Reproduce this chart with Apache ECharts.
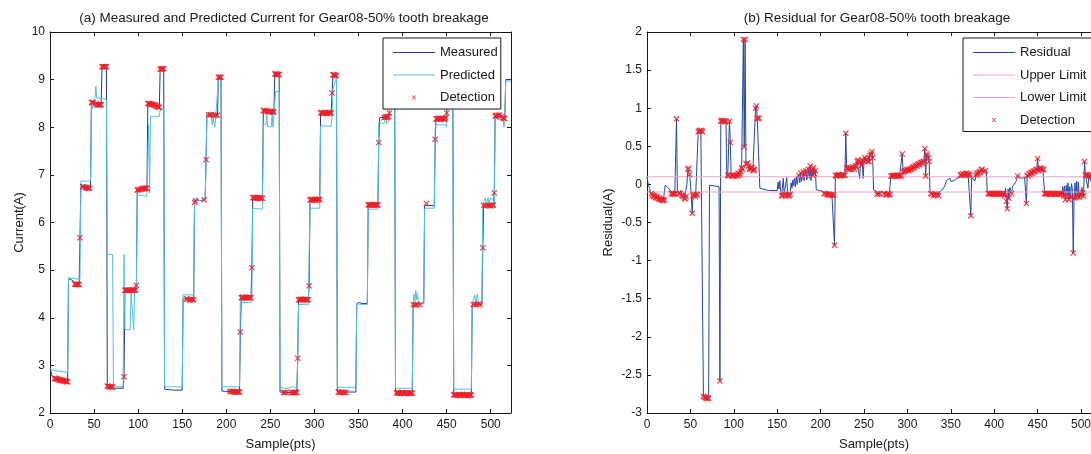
<!DOCTYPE html>
<html>
<head>
<meta charset="utf-8">
<script src="https://cdn.jsdelivr.net/npm/echarts@6/dist/echarts.min.js"></script>
<style>
  html, body { margin: 0; padding: 0; background: #ffffff; }
  #chart { width: 1091px; height: 454px; }
</style>
</head>
<body>
<div id="chart"></div>
<script>
// ---- data ---------------------------------------------------------------
const sampleCount = 523;           // last sample index on the x axis
const xTickStep = 50;
const upperLimit = 0.1;
const lowerLimit = -0.1;

// measured motor current [sample, A]
const measured = [
  [0,2.93],[1,2.88],[2,2.8],[3,2.75],[5,2.73],[8,2.71],[12,2.69],[16,2.67],[20,2.65],
  [21,4.82],[24,4.8],[27,4.76],[28,4.71],[33,4.7],[34,5.68],
  [35,6.76],[38,6.75],[42,6.73],[46,6.72],
  [47,8.52],[51,8.52],[52,8.5],[53,8.47],[58,8.47],
  [59,9.27],[64,9.27],
  [65,2.56],[70,2.55],[73,2.52],[83,2.52],[84,2.76],
  [85,4.58],[97,4.58],[98,4.68],
  [99,6.68],[104,6.7],[110,6.72],
  [111,8.5],[118,8.48],[121,8.44],[124,8.42],
  [125,9.22],[129,9.23],
  [130,2.5],[140,2.48],[150,2.48],
  [151,4.4],[163,4.38],[164,6.42],[166,6.48],[170,6.46],[176,6.48],[177,7.32],
  [178,8.27],[185,8.26],[190,8.25],
  [191,9.05],[194,9.05],
  [195,2.46],[205,2.45],[215,2.44],[216,3.7],
  [217,4.42],[228,4.42],[229,5.05],
  [230,6.52],[241,6.51],
  [242,8.35],[248,8.33],[254,8.32],
  [255,9.12],[260,9.1],
  [261,2.44],[270,2.43],[280,2.43],[281,3.15],
  [282,4.38],[293,4.38],[294,4.67],
  [295,6.48],[306,6.48],
  [307,8.3],[319,8.3],[320,8.72],
  [321,9.1],[325,9.08],
  [326,2.44],[347,2.44],
  [348,4.3],[351,4.32],[354,4.3],[360,4.3],
  [361,6.37],[372,6.37],[373,7.68],
  [374,8.2],[381,8.21],[384,8.22],[385,8.3],
  [386,9.05],[391,9.05],
  [392,2.43],[411,2.42],
  [412,4.28],[424,4.3],
  [425,6.36],[427,6.4],[429,6.36],[436,6.35],[437,7.75],
  [438,8.18],[449,8.2],[450,8.3],
  [451,9.05],[457,9.05],
  [458,2.38],[478,2.38],
  [479,4.27],[490,4.28],[491,5.47],
  [492,6.36],[503,6.37],[504,6.62],
  [505,8.23],[510,8.25],[516,8.2],
  [517,9.0],[523,9.0]
];

// model-predicted current [sample, A]
const predicted = [
  [0,2.93],[3,2.9],[10,2.88],[20,2.85],
  [21,4.84],[27,4.83],[34,4.8],
  [35,6.87],[46,6.87],
  [47,8.55],[48,8.38],[49,8.55],[51,8.6],[52,8.86],[53,8.62],[60,8.6],[64,8.58],
  [65,5.33],[71,5.33],
  [72,2.55],[83,2.55],[84,5.33],
  [85,3.75],[91,3.75],[92,4.55],[94,4.55],[95,3.75],[96,4.55],[98,4.6],
  [99,6.58],[110,6.55],[111,6.58],[112,8.05],[113,6.62],
  [114,8.23],[124,8.23],[125,8.36],[129,8.38],
  [130,2.55],[150,2.55],
  [151,4.48],[163,4.48],
  [164,6.5],[167,6.52],[170,6.45],[176,6.47],[177,7.2],
  [178,8.27],[183,8.25],[184,8.05],[185,8.2],[187,8.0],[188,8.22],[190,8.2],
  [191,9.0],[194,9.0],
  [195,2.55],[215,2.55],[216,4.5],
  [217,4.32],[228,4.32],[229,4.38],
  [230,6.3],[241,6.28],
  [242,8.05],[245,8.05],[246,8.3],[247,8.02],[251,8.0],[252,8.28],[253,8.0],[255,8.02],
  [256,8.75],[260,8.75],
  [261,2.55],[265,2.52],[267,2.56],[270,2.52],[275,2.55],[280,2.53],[281,3.05],
  [282,4.28],[293,4.27],[294,4.27],
  [295,6.3],[306,6.3],
  [307,8.03],[319,8.02],[320,8.25],
  [321,8.8],[325,9.05],
  [326,2.54],[347,2.54],
  [348,4.3],[350,4.32],[352,4.28],[360,4.28],
  [361,6.28],[372,6.28],[373,8.1],
  [374,8.12],[379,8.08],[381,8.2],[382,8.08],[385,8.15],
  [386,9.0],[391,9.0],
  [392,2.52],[411,2.52],
  [412,4.3],[413,4.5],[414,4.35],[415,4.57],[416,4.38],[417,4.5],[418,4.3],[424,4.3],
  [425,6.3],[436,6.3],[437,8.0],
  [438,8.05],[449,8.05],[450,8.0],
  [451,8.85],[457,8.85],
  [458,2.5],[478,2.5],
  [479,4.28],[481,4.3],[482,4.48],[483,4.3],[485,4.5],[486,4.32],[490,4.3],[491,6.4],
  [492,6.4],[494,6.52],[495,6.4],[497,6.52],[498,6.4],[500,6.52],[503,6.45],[504,6.32],
  [505,8.2],[510,8.15],[514,8.2],[515,8.0],[516,8.15],
  [517,8.97],[523,8.97]
];

// residual = measured - predicted [sample, A]
const residual = [
  [0,0.1],[1,0.03],[2,-0.02],[3,-0.05],[4,-0.09],[5,-0.12],[6,-0.14],[7,-0.15],[8,-0.16],[9,-0.15],
  [10,-0.17],[11,-0.18],[12,-0.16],[13,-0.19],[14,-0.18],[15,-0.2],[16,-0.19],[17,-0.2],[18,-0.21],[19,-0.2],[20,-0.21],
  [21,-0.01],[23,-0.03],[25,-0.05],[27,-0.08],[28,-0.12],[30,-0.13],[32,-0.13],[33,-0.12],[34,0.86],[35,-0.08],
  [36,-0.07],[37,-0.12],[38,-0.12],[39,-0.08],[40,-0.14],[42,-0.16],[43,-0.18],[44,-0.19],[45,-0.16],[46,0.0],
  [47,0.2],[48,0.21],[49,0.13],[50,0.02],[51,-0.15],[52,-0.38],[53,-0.15],[54,-0.13],[56,-0.16],[58,-0.14],
  [59,0.69],[61,0.7],[62,0.71],[64,0.69],[65,-2.78],[68,-2.8],[71,-2.81],[72,-0.01],[74,0.0],[78,-0.02],[83,-0.03],
  [84,-2.58],[85,0.83],[88,0.84],[91,0.83],[92,0.08],[93,0.12],[94,0.12],[95,0.83],[96,0.55],[97,0.12],[98,0.11],
  [99,0.11],[100,0.12],[101,0.11],[102,0.09],[103,0.13],[104,0.11],[105,0.15],[106,0.12],[107,0.14],[108,0.17],
  [109,0.22],[110,0.2],[111,1.9],[112,0.49],[113,1.9],[114,0.27],[115,0.26],[116,0.28],[117,0.24],[118,0.2],
  [119,0.22],[120,0.2],[121,0.22],[122,0.18],[123,0.2],[124,0.19],[125,1.0],[126,1.03],[127,0.87],[128,0.86],[129,0.87],
  [130,-0.05],[132,-0.07],[140,-0.08],[150,-0.08],
  [151,0.03],[152,-0.06],[153,0.05],[154,-0.09],[155,-0.15],[156,-0.15],[157,0.08],[158,-0.13],[159,-0.14],[160,-0.15],
  [161,0.09],[162,-0.14],[163,-0.15],[164,-0.15],[165,-0.13],[166,0.02],[167,-0.05],[168,0.06],[169,-0.02],[170,0.08],
  [171,-0.03],[172,0.1],[173,0.0],[174,0.09],[175,0.12],[176,0.02],[177,0.15],[178,0.04],[179,0.09],[180,0.17],
  [181,0.05],[182,0.13],[183,0.18],[184,0.06],[185,0.1],[186,0.2],[187,0.08],[188,0.24],[189,0.05],[190,0.19],
  [191,0.12],[192,0.22],[193,0.14],[194,0.18],[195,-0.07],[198,-0.08],[202,-0.09],[203,-0.1],[204,-0.12],[205,-0.12],
  [206,-0.1],[207,-0.13],[208,-0.13],[209,-0.14],[210,-0.13],[211,-0.14],[212,-0.14],[213,-0.13],[214,-0.15],[215,-0.14],
  [216,-0.8],[217,0.12],[218,0.11],[219,0.12],[221,0.13],[223,0.11],[225,0.13],[226,0.12],[228,0.12],[229,0.67],
  [230,0.22],[231,0.21],[232,0.2],[233,0.2],[234,0.22],[235,0.21],[236,0.2],[237,0.23],[238,0.22],[239,0.2],
  [240,0.24],[241,0.23],[242,0.3],[243,0.32],[244,0.3],[245,0.08],[246,0.3],[247,0.25],[248,0.32],[249,0.08],
  [250,0.3],[251,0.35],[252,0.32],[253,0.33],[254,0.3],[255,0.35],[256,0.3],[257,0.38],[258,0.4],[259,0.43],[260,0.35],
  [261,-0.07],[263,-0.08],[264,-0.09],[265,-0.13],[266,-0.12],[267,-0.09],[268,-0.13],[270,-0.09],[272,-0.09],
  [273,-0.12],[274,-0.1],[275,-0.13],[276,-0.14],[277,-0.13],[278,-0.12],[279,-0.14],[280,-0.13],
  [281,0.11],[283,0.11],[284,0.12],[286,0.12],[288,0.11],[289,0.12],[291,0.12],[293,0.11],[294,0.4],
  [295,0.16],[296,0.17],[297,0.18],[299,0.19],[301,0.2],[302,0.18],[304,0.21],[305,0.2],[306,0.22],
  [307,0.23],[308,0.22],[309,0.24],[310,0.25],[311,0.24],[312,0.26],[313,0.27],[314,0.26],[315,0.28],[316,0.29],
  [317,0.28],[318,0.3],[319,0.3],[320,0.47],[321,0.11],[322,0.4],[323,0.38],[324,0.35],[325,0.3],
  [326,-0.07],[327,-0.12],[328,-0.13],[329,-0.09],[330,-0.15],[331,-0.13],[332,-0.1],[333,-0.14],[334,-0.13],
  [335,-0.09],[336,-0.15],[337,-0.1],[339,-0.09],[341,-0.06],[343,-0.02],[345,0.05],[346,0.07],[347,0.03],
  [349,0.08],[350,0.04],[352,0.06],[354,0.05],[356,0.08],[358,0.1],[360,0.09],
  [361,0.12],[362,0.13],[363,0.12],[364,0.14],[365,0.13],[366,0.12],[367,0.14],[368,0.15],[369,0.13],[370,0.12],
  [371,0.14],[372,0.12],[373,-0.41],[374,0.08],[376,0.07],[378,0.05],[379,0.12],[380,0.15],[381,0.13],[382,0.15],
  [383,0.17],[384,0.16],[385,0.19],[386,0.2],[387,0.16],[388,0.17],[389,0.15],[390,0.18],[391,0.15],
  [392,-0.1],[393,-0.12],[398,-0.13],[404,-0.13],[411,-0.12],
  [412,-0.15],[413,-0.05],[414,-0.22],[415,-0.32],[416,-0.06],[417,-0.18],[418,-0.04],[419,-0.08],[420,-0.12],
  [421,-0.03],[423,0.0],[425,0.04],[426,0.07],[427,0.11],[429,0.09],[431,0.08],[433,0.1],[435,0.09],[436,0.08],
  [437,-0.25],[438,0.12],[439,0.11],[440,0.14],[441,0.13],[442,0.15],[443,0.16],[444,0.15],[445,0.17],[446,0.18],
  [447,0.17],[448,0.19],[449,0.2],[450,0.34],[451,0.18],[452,0.2],[453,0.22],[454,0.2],[455,0.21],[456,0.19],[457,0.2],
  [458,-0.1],[459,-0.12],[465,-0.12],[470,-0.13],[478,-0.12],
  [479,-0.03],[480,-0.15],[481,-0.02],[482,-0.2],[483,-0.01],[484,-0.15],[485,0.02],[486,-0.2],[487,-0.03],
  [488,-0.17],[489,0.01],[490,-0.06],[491,-0.9],[492,-0.18],[493,0.02],[494,-0.17],[495,0.04],[496,-0.16],
  [497,0.03],[498,-0.17],[499,-0.12],[500,-0.15],[501,-0.04],[502,-0.11],[503,-0.15],[504,0.3],
  [505,0.12],[506,0.13],[507,0.12],[508,-0.05],[509,0.12],[510,0.11],[511,0.05],[512,0.12],[513,0.06],
  [514,0.11],[515,0.12],[516,0.12],[517,0.04],[519,0.02],[521,0.06],[523,0.03]
];

// detected samples: [sample, measured current (A), residual (A)]
const detections = [
  [5,2.73,-0.12],[6,2.72,-0.14],[7,2.72,-0.15],[8,2.71,-0.16],[9,2.71,-0.15],[10,2.7,-0.17],[11,2.7,-0.18],
  [12,2.69,-0.16],[13,2.69,-0.19],[14,2.68,-0.18],[15,2.68,-0.2],[16,2.67,-0.19],[17,2.67,-0.2],[18,2.66,-0.21],
  [19,2.66,-0.2],[20,2.65,-0.21],
  [28,4.71,-0.12],[29,4.7,-0.12],[30,4.7,-0.13],[31,4.7,-0.12],[32,4.7,-0.13],[33,4.7,-0.12],
  [34,5.68,0.86],
  [37,6.75,-0.12],[38,6.75,-0.12],[40,6.74,-0.14],[41,6.73,-0.15],[42,6.73,-0.16],[43,6.72,-0.18],[44,6.72,-0.19],[45,6.72,-0.16],
  [47,8.52,0.2],[48,8.52,0.21],[49,8.52,0.13],
  [52,8.5,-0.38],[53,8.47,-0.15],[54,8.47,-0.13],[55,8.47,-0.14],[56,8.47,-0.16],[57,8.47,-0.13],[58,8.47,-0.14],
  [59,9.27,0.69],[60,9.27,0.7],[61,9.27,0.7],[62,9.27,0.71],[63,9.27,0.7],[64,9.27,0.69],
  [65,2.56,-2.78],[66,2.56,-2.79],[67,2.55,-2.8],[68,2.55,-2.8],[69,2.55,-2.81],[70,2.55,-2.8],[71,2.54,-2.81],
  [84,2.76,-2.58],
  [85,4.58,0.83],[86,4.58,0.84],[87,4.58,0.83],[88,4.58,0.84],[89,4.58,0.83],[90,4.58,0.82],[91,4.58,0.83],
  [93,4.58,0.12],[94,4.58,0.12],[95,4.58,0.83],[96,4.58,0.55],[97,4.58,0.12],[98,4.68,0.11],
  [99,6.68,0.11],[100,6.69,0.12],[101,6.69,0.11],[103,6.7,0.13],[104,6.7,0.11],[105,6.71,0.15],[106,6.72,0.12],
  [107,6.71,0.14],[108,6.72,0.17],[109,6.72,0.22],[110,6.72,0.2],
  [111,8.5,1.9],[112,8.5,0.49],[113,8.5,1.9],[114,8.49,0.27],[115,8.48,0.26],[116,8.48,0.28],[117,8.48,0.24],
  [118,8.47,0.2],[119,8.46,0.22],[120,8.45,0.2],[121,8.44,0.22],[122,8.43,0.18],[123,8.42,0.2],[124,8.42,0.19],
  [125,9.22,1.0],[126,9.22,1.03],[127,9.23,0.87],[128,9.23,0.86],[129,9.23,0.87],
  [155,4.4,-0.15],[156,4.39,-0.15],[158,4.38,-0.13],[159,4.38,-0.14],[160,4.38,-0.15],[162,4.38,-0.14],[163,4.38,-0.15],
  [164,6.42,-0.15],[165,6.45,-0.13],
  [175,6.48,0.12],[177,7.32,0.15],[180,8.26,0.17],[182,8.26,0.13],[183,8.26,0.18],[186,8.25,0.2],[188,8.25,0.24],[190,8.25,0.19],
  [191,9.05,0.12],[192,9.05,0.22],[193,9.05,0.14],[194,9.05,0.18],
  [204,2.45,-0.12],[205,2.45,-0.12],[207,2.45,-0.13],[208,2.45,-0.13],[209,2.44,-0.14],[210,2.44,-0.13],
  [211,2.44,-0.14],[212,2.44,-0.14],[213,2.44,-0.13],[214,2.44,-0.15],[215,2.44,-0.14],
  [216,3.7,-0.8],
  [217,4.42,0.12],[218,4.42,0.11],[219,4.43,0.12],[220,4.42,0.12],[221,4.42,0.13],[222,4.43,0.12],[223,4.42,0.11],
  [224,4.42,0.12],[225,4.42,0.13],[226,4.43,0.12],[227,4.42,0.12],[228,4.42,0.12],
  [229,5.05,0.67],
  [230,6.52,0.22],[231,6.53,0.21],[232,6.52,0.2],[233,6.51,0.2],[234,6.52,0.22],[235,6.52,0.21],[236,6.51,0.2],
  [237,6.52,0.23],[238,6.52,0.22],[239,6.51,0.2],[240,6.51,0.24],[241,6.51,0.23],
  [242,8.35,0.3],[243,8.35,0.32],[244,8.34,0.3],[246,8.34,0.3],[247,8.33,0.25],[248,8.33,0.32],[250,8.33,0.3],
  [251,8.33,0.35],[252,8.32,0.32],[253,8.32,0.33],[254,8.32,0.3],
  [255,9.12,0.35],[256,9.12,0.3],[257,9.12,0.38],[258,9.11,0.4],[259,9.11,0.43],[260,9.1,0.35],
  [265,2.43,-0.13],[266,2.43,-0.12],[268,2.43,-0.13],[273,2.43,-0.12],[275,2.43,-0.13],[276,2.43,-0.14],
  [277,2.43,-0.13],[278,2.43,-0.12],[279,2.43,-0.14],[280,2.43,-0.13],
  [281,3.15,0.11],
  [282,4.38,0.11],[283,4.38,0.11],[284,4.39,0.12],[285,4.38,0.11],[286,4.38,0.12],[287,4.39,0.11],[288,4.38,0.11],
  [289,4.38,0.12],[290,4.39,0.11],[291,4.38,0.12],[292,4.38,0.12],[293,4.38,0.11],
  [294,4.67,0.4],
  [295,6.47,0.16],[296,6.48,0.17],[297,6.49,0.18],[298,6.48,0.18],[299,6.47,0.19],[300,6.48,0.19],[301,6.49,0.2],
  [302,6.48,0.18],[303,6.47,0.2],[304,6.48,0.21],[305,6.49,0.2],[306,6.48,0.22],
  [307,8.3,0.23],[308,8.31,0.22],[309,8.3,0.24],[310,8.29,0.25],[311,8.3,0.24],[312,8.31,0.26],[313,8.3,0.27],
  [314,8.29,0.26],[315,8.3,0.28],[316,8.31,0.29],[317,8.3,0.28],[318,8.3,0.3],[319,8.3,0.3],
  [320,8.72,0.47],
  [321,9.1,0.11],[322,9.1,0.4],[323,9.09,0.38],[324,9.09,0.35],[325,9.08,0.3],
  [327,2.44,-0.12],[328,2.43,-0.13],[330,2.43,-0.15],[331,2.44,-0.13],[333,2.43,-0.14],[334,2.43,-0.13],[336,2.43,-0.15],
  [361,6.37,0.12],[362,6.38,0.13],[363,6.36,0.12],[364,6.37,0.14],[365,6.38,0.13],[366,6.37,0.12],[367,6.36,0.14],
  [368,6.37,0.15],[369,6.38,0.13],[370,6.37,0.12],[371,6.36,0.14],[372,6.37,0.12],
  [373,7.68,-0.41],
  [379,8.2,0.12],[380,8.21,0.15],[381,8.21,0.13],[382,8.22,0.15],[383,8.22,0.17],[384,8.22,0.16],[385,8.3,0.19],
  [386,9.05,0.2],[388,9.05,0.17],[390,9.05,0.18],
  [393,2.42,-0.12],[394,2.43,-0.12],[395,2.42,-0.13],[396,2.42,-0.12],[397,2.41,-0.12],[398,2.42,-0.13],
  [399,2.42,-0.12],[400,2.43,-0.12],[401,2.42,-0.13],[402,2.41,-0.12],[403,2.42,-0.12],[404,2.42,-0.13],
  [405,2.43,-0.12],[406,2.42,-0.12],[407,2.41,-0.13],[408,2.42,-0.12],[409,2.42,-0.12],[410,2.41,-0.13],[411,2.42,-0.12],
  [412,4.28,-0.15],[414,4.27,-0.22],[415,4.27,-0.32],[417,4.28,-0.18],[420,4.28,-0.12],
  [427,6.4,0.11],
  [437,7.75,-0.25],
  [438,8.18,0.12],[439,8.17,0.11],[440,8.18,0.14],[441,8.19,0.13],[442,8.18,0.15],[443,8.17,0.16],
  [444,8.18,0.15],[445,8.19,0.17],[446,8.18,0.18],[447,8.17,0.17],[448,8.18,0.19],[449,8.2,0.2],
  [450,8.3,0.34],
  [451,9.05,0.18],[452,9.05,0.2],[453,9.05,0.22],[454,9.05,0.2],[455,9.05,0.21],[456,9.05,0.19],[457,9.05,0.2],
  [458,2.38,-0.12],[459,2.39,-0.12],[460,2.38,-0.13],[461,2.37,-0.12],[462,2.38,-0.12],[463,2.39,-0.13],
  [464,2.38,-0.12],[465,2.37,-0.12],[466,2.38,-0.13],[467,2.38,-0.12],[468,2.39,-0.12],[469,2.38,-0.13],
  [470,2.37,-0.13],[471,2.38,-0.12],[472,2.38,-0.13],[473,2.39,-0.12],[474,2.38,-0.12],[475,2.37,-0.13],
  [476,2.38,-0.12],[477,2.38,-0.13],[478,2.38,-0.12],
  [480,4.28,-0.15],[482,4.28,-0.2],[484,4.28,-0.15],[486,4.29,-0.2],[488,4.28,-0.17],
  [491,5.47,-0.9],
  [492,6.36,-0.18],[494,6.35,-0.17],[496,6.36,-0.16],[498,6.35,-0.17],[499,6.36,-0.12],[500,6.35,-0.15],
  [502,6.36,-0.11],[503,6.37,-0.15],
  [504,6.62,0.3],
  [505,8.23,0.12],[506,8.24,0.13],[507,8.25,0.12],[509,8.25,0.12],[510,8.25,0.11],[512,8.22,0.12],
  [514,8.2,0.11],[515,8.19,0.12],[516,8.18,0.12]
];

// ---- styling ------------------------------------------------------------
const FONT = 'Liberation Sans, Arial, Helvetica, sans-serif';
const INK = '#1a1a1a';
const C_MEAS = '#1f3c9c';
const C_PRED = '#4fc3e3';
const C_RES = '#2647a6';
const C_LIMIT = '#e7a6dd';
const C_DET = '#f0202a';
// filled "x" glyph for detection markers
const CROSS = 'path://M0,1.3L1.3,0L5,3.7L8.7,0L10,1.3L6.3,5L10,8.7L8.7,10L5,6.3L1.3,10L0,8.7L3.7,5Z';
// same glyph padded so that the legend draws it small inside its slot
const CROSS_LEGEND = 'path://M0,0L0.01,0L0,0.01Z M22,22L22.01,22L22,22.01Z ' +
  'M7,7.9L7.9,7L11,10.1L14.1,7L15,7.9L11.9,11L15,14.1L14.1,15L11,11.9L7.9,15L7,14.1L10.1,11Z';
// plain line sample for line entries in the legend
const LINE_LEGEND = 'path://M0,0L42,0L42,1L0,1Z';

const xLabel = v => (v % xTickStep === 0 && v <= 500) ? String(v) : '';

function xAxes(grid) {
  const base = {
    gridIndex: grid, type: 'value', min: 0, max: sampleCount, interval: xTickStep,
    splitLine: { show: false },
    axisLine: { show: true, onZero: false, lineStyle: { color: INK, width: 1 } },
    axisTick: { show: true, inside: true, length: 4, lineStyle: { color: INK } }
  };
  return [
    Object.assign({}, base, {
      position: 'bottom',
      axisLabel: { show: true, formatter: xLabel, color: INK, fontSize: 12, fontFamily: FONT, margin: 6 },
      name: 'Sample(pts)', nameLocation: 'middle', nameGap: 25,
      nameTextStyle: { color: INK, fontSize: 13, fontFamily: FONT }
    }),
    Object.assign({}, base, { position: 'top', axisLabel: { show: false } })
  ];
}

function yAxes(grid, min, max, step, name, gap) {
  const base = {
    gridIndex: grid, type: 'value', min: min, max: max, interval: step,
    splitLine: { show: false },
    axisLine: { show: true, onZero: false, lineStyle: { color: INK, width: 1 } },
    axisTick: { show: true, inside: true, length: 4, lineStyle: { color: INK } }
  };
  return [
    Object.assign({}, base, {
      position: 'left',
      axisLabel: { show: true, color: INK, fontSize: 12, fontFamily: FONT, margin: 5 },
      name: name, nameLocation: 'middle', nameGap: gap, nameRotate: 90,
      nameTextStyle: { color: INK, fontSize: 13, fontFamily: FONT }
    }),
    Object.assign({}, base, { position: 'right', axisLabel: { show: false } })
  ];
}

const legendBase = {
  orient: 'vertical', selectedMode: false, z: 20,
  backgroundColor: '#ffffff', borderColor: INK, borderWidth: 1,
  itemWidth: 42, itemHeight: 12, itemGap: 9.5,
  textStyle: { color: INK, fontSize: 13, fontFamily: FONT }
};

const option = {
  animation: false,
  backgroundColor: '#ffffff',
  title: [
    { text: '(a) Measured and Predicted Current for Gear08-50% tooth breakage',
      left: 279, top: 6, textAlign: 'center',
      textStyle: { color: INK, fontSize: 13.5, fontWeight: 'normal', fontFamily: FONT } },
    { text: '(b) Residual for Gear08-50% tooth breakage',
      left: 872, top: 6, textAlign: 'center',
      textStyle: { color: INK, fontSize: 13.5, fontWeight: 'normal', fontFamily: FONT } }
  ],
  grid: [
    { left: 50, top: 32, width: 461, height: 381, containLabel: false, outerBoundsMode: 'none' },
    { left: 647, top: 32, width: 454, height: 381, containLabel: false, outerBoundsMode: 'none' }
  ],
  xAxis: xAxes(0).concat(xAxes(1)),
  yAxis: yAxes(0, 2, 10, 1, 'Current(A)', 24).concat(yAxes(1, -3, 2, 0.5, 'Residual(A)', 32)),
  legend: [
    Object.assign({}, legendBase, {
      left: 383, top: 38, padding: [8, 3, 5, 10],
      data: [
        { name: 'Measured', icon: LINE_LEGEND },
        { name: 'Predicted', icon: LINE_LEGEND },
        { name: 'Detection', icon: CROSS_LEGEND }
      ]
    }),
    Object.assign({}, legendBase, {
      left: 963, top: 38, padding: [8, 30, 5, 10],
      data: [
        { name: 'Residual', icon: LINE_LEGEND },
        { name: 'Upper Limit', icon: LINE_LEGEND },
        { name: 'Lower Limit', icon: LINE_LEGEND },
        { name: 'Detection', icon: CROSS_LEGEND }
      ]
    })
  ],
  series: [
    { name: 'Measured', type: 'line', xAxisIndex: 0, yAxisIndex: 0, data: measured,
      symbol: 'none', color: C_MEAS, lineStyle: { color: C_MEAS, width: 1 }, z: 2 },
    { name: 'Predicted', type: 'line', xAxisIndex: 0, yAxisIndex: 0, data: predicted,
      symbol: 'none', color: C_PRED, lineStyle: { color: C_PRED, width: 1 }, z: 2 },
    { name: 'Detection', type: 'scatter', xAxisIndex: 0, yAxisIndex: 0,
      data: detections.map(d => [d[0], d[1]]),
      symbol: CROSS, symbolSize: 6, color: C_DET, itemStyle: { color: C_DET, opacity: 0.9 }, z: 3 },

    { name: 'Residual', type: 'line', xAxisIndex: 2, yAxisIndex: 2, data: residual,
      symbol: 'none', color: C_RES, lineStyle: { color: C_RES, width: 1 }, z: 2 },
    { name: 'Upper Limit', type: 'line', xAxisIndex: 2, yAxisIndex: 2,
      data: [[0, upperLimit], [sampleCount, upperLimit]],
      symbol: 'none', color: C_LIMIT, lineStyle: { color: C_LIMIT, width: 1 }, z: 2 },
    { name: 'Lower Limit', type: 'line', xAxisIndex: 2, yAxisIndex: 2,
      data: [[0, lowerLimit], [sampleCount, lowerLimit]],
      symbol: 'none', color: C_LIMIT, lineStyle: { color: C_LIMIT, width: 1 }, z: 2 },
    { name: 'Detection', type: 'scatter', xAxisIndex: 2, yAxisIndex: 2,
      data: detections.map(d => [d[0], d[2]]),
      symbol: CROSS, symbolSize: 6, color: C_DET, itemStyle: { color: C_DET, opacity: 0.9 }, z: 3 }
  ]
};

const chart = echarts.init(document.getElementById('chart'), null, { renderer: 'canvas' });
chart.setOption(option);
</script>
</body>
</html>
